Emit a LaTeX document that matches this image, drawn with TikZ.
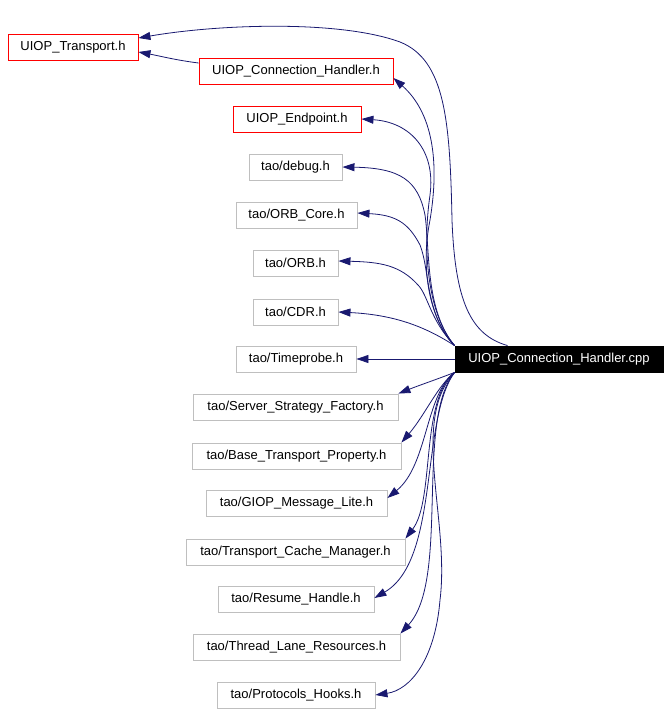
\documentclass[tikz,border=0pt]{standalone}
\usepackage{fontspec}
\setmainfont{Liberation Sans}
\usetikzlibrary{arrows.meta,calc}
\definecolor{edgeblue}{HTML}{191970}
\definecolor{boxgray}{HTML}{BFBFBF}
\begin{document}
\begin{tikzpicture}[x=1pt,y=-1pt,
  box/.style={draw=boxgray,line width=0.9pt,inner sep=0pt,minimum height=26pt,font=\fontsize{13}{15}\selectfont},
  redbox/.style={box,draw=red},
  mainbox/.style={box,draw=black,fill=black,text=white},
  dep/.style={draw=edgeblue,line width=0.8pt,-{Triangle[length=12pt,width=8pt]},fill=none},
]
\useasboundingbox (0,0) rectangle (671,714);
\node[redbox,minimum width=130pt] (T) at (73,47) {UIOP\_Transport.h};
\node[redbox,minimum width=194pt] (CH) at (296,71) {UIOP\_Connection\_Handler.h};
\node[redbox,minimum width=128pt] (EP) at (297,119) {UIOP\_Endpoint.h};
\node[box,minimum width=93pt] (DBG) at (295.5,167) {tao/debug.h};
\node[box,minimum width=121pt] (ORBC) at (296.5,215) {tao/ORB\_Core.h};
\node[box,minimum width=85pt] (ORB) at (295.5,263) {tao/ORB.h};
\node[box,minimum width=85pt] (CDR) at (295.5,312) {tao/CDR.h};
\node[box,minimum width=120pt] (TP) at (296,359) {tao/Timeprobe.h};
\node[mainbox,minimum width=208pt] (CPP) at (559,359) {UIOP\_Connection\_Handler.cpp};
\node[box,minimum width=205pt] (SSF) at (295.5,407) {tao/Server\_Strategy\_Factory.h};
\node[box,minimum width=209pt] (BTP) at (296.5,456) {tao/Base\_Transport\_Property.h};
\node[box,minimum width=181pt] (GIOP) at (296.5,503) {tao/GIOP\_Message\_Lite.h};
\node[box,minimum width=219pt] (TCM) at (295.5,552) {tao/Transport\_Cache\_Manager.h};
\node[box,minimum width=156pt] (RH) at (296,599) {tao/Resume\_Handle.h};
\node[box,minimum width=207pt] (TLR) at (296.5,647) {tao/Thread\_Lane\_Resources.h};
\node[box,minimum width=158pt] (PH) at (296,695) {tao/Protocols\_Hooks.h};

% header-to-header edge
\draw[dep] ($(CH.west)+(0,-8)$) .. controls (175,60) and (160,56) .. ($(T.east)+(0,5)$);
% upper edges
\draw[dep] ($(CPP.north west)+(53,0)$) .. controls (470,335) and (455,300) .. (452,220)
   .. controls (450,120) and (445,60) .. (400,42) .. controls (340,20) and (220,24) .. ($(T.east)+(0,-9)$);
\draw[dep] (CPP.north west) .. controls (430,320) and (420,270) .. (430,220)
   .. controls (440,160) and (432,112) .. ($(CH.east)+(0,7)$);
\draw[dep] (CPP.north west) .. controls (428,315) and (422,250) .. (430,195)
   .. controls (436,150) and (410,122) .. (EP.east);
\draw[dep] (CPP.north west) .. controls (425,310) and (430,250) .. (425,215)
   .. controls (418,180) and (400,168) .. (DBG.east);
\draw[dep] (CPP.north west) .. controls (425,315) and (430,270) .. (420,245)
   .. controls (408,222) and (395,215) .. ($(ORBC.east)+(0,-2)$);
\draw[dep] (CPP.north west) .. controls (430,320) and (428,295) .. (418,285)
   .. controls (400,265) and (380,262) .. ($(ORB.east)+(0,-2)$);
\draw[dep] (CPP.north west) .. controls (430,330) and (400,315) .. (CDR.east);
\draw[dep] (CPP.west) -- (TP.east);
% lower edges
\draw[dep] (CPP.south west) .. controls (435,380) and (420,385) .. (SSF.north east);
\draw[dep] (CPP.south west) .. controls (438,385) and (425,415) .. (BTP.north east);
\draw[dep] (CPP.south west) .. controls (425,395) and (428,465) .. ($(GIOP.east)+(0,-5)$);
\draw[dep] (CPP.south west) .. controls (420,400) and (435,500) .. (TCM.north east);
\draw[dep] (CPP.south west) .. controls (420,420) and (440,560) .. ($(RH.east)+(0,-1)$);
\draw[dep] (CPP.south west) .. controls (415,420) and (450,580) .. (TLR.north east);
\draw[dep] (CPP.south west) .. controls (410,420) and (450,520) .. (440,600)
   .. controls (435,660) and (410,690) .. (PH.east);
\end{tikzpicture}
\end{document}
